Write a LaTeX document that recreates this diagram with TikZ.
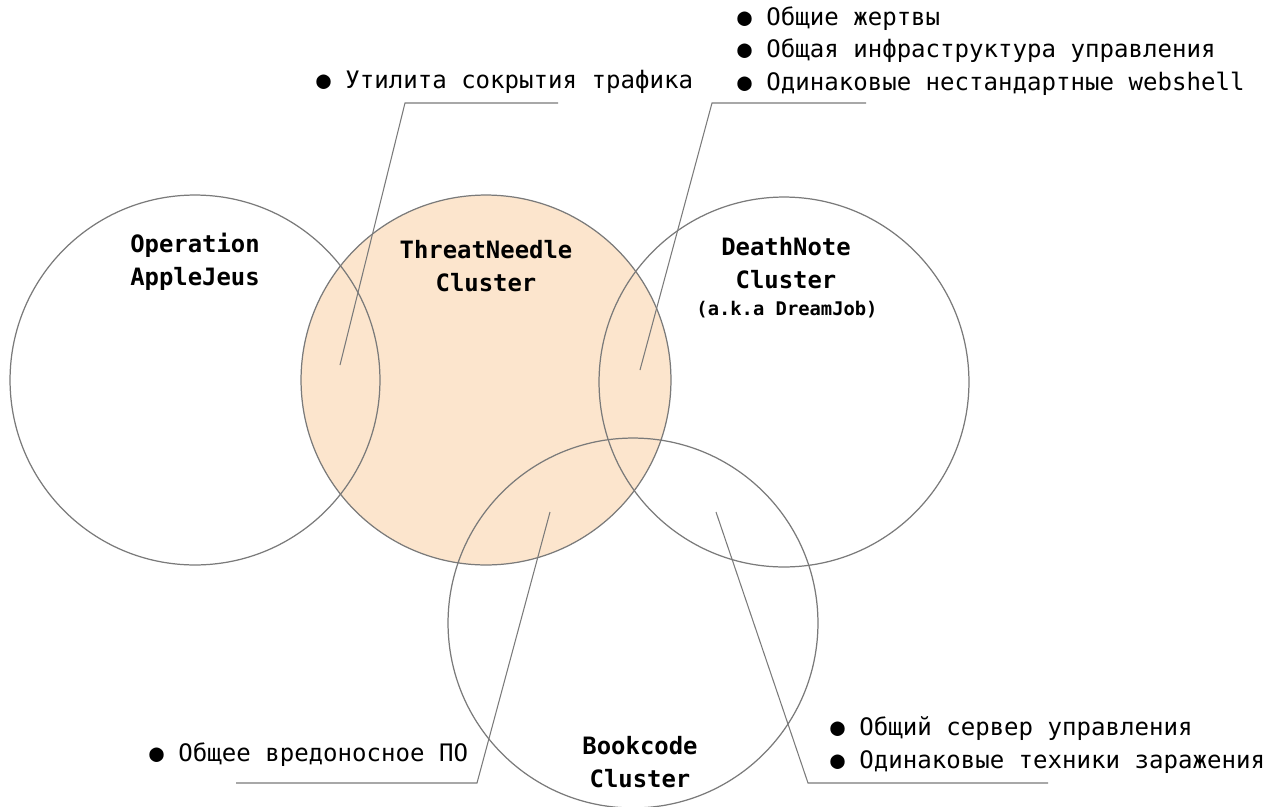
\documentclass[tikz,border=0pt]{standalone}
\usepackage{fontspec}
\usetikzlibrary{positioning}
\newfontfamily\vennfont{DejaVu Sans Mono}
\definecolor{peach}{HTML}{FCE5CD}
\definecolor{rim}{HTML}{7A7A7A}
\tikzset{
    %Define style for the circles
    cluster/.style={
           circle,
           draw=rim, line width=0.7pt,
           minimum size=7.4cm,
           inner sep=0pt},
    %Define style for cluster names
    clname/.style={
           font=\vennfont\bfseries\fontsize{13.6}{18.7}\selectfont,
           align=center,
           inner sep=0pt},
    %Define style for bullet notes
    note/.style={
           font=\vennfont\fontsize{13.7}{18.5}\selectfont,
           align=left,
           anchor=west,
           inner sep=0pt},
    % Define leader line style
    lead/.style={
           draw=rim,
           line width=0.6pt}
}
\begin{document}
\begin{tikzpicture}[x=0.02cm,y=-0.02cm]
\useasboundingbox (0,0) rectangle (1268,806);
\node[cluster, fill=peach](TN) at (486,380) {};
\node[cluster](AJ) at (195,380) {};
\node[cluster](DN) at (784,382) {};
\node[cluster](BC) at (633,623) {};
\node[clname](AJt) at (195,262) {Operation\\AppleJeus};
\node[clname](TNt) at (486,266) {ThreatNeedle\\Cluster};
\node[clname](DNt) at (786,263) {DeathNote\\Cluster};
\node[clname, font=\vennfont\bfseries\fontsize{10.7}{13}\selectfont](DJ) at (787,310) {(a.k.a DreamJob)};
\node[clname](BCt) at (640,762) {Bookcode\\Cluster};
\node[note](n1) at (316,82) {● Утилита сокрытия трафика};
\node[note](n2) at (737,51) {● Общие жертвы\\● Общая инфраструктура управления\\● Одинаковые нестандартные webshell};
\node[note](n3) at (149,755) {● Общее вредоносное ПО};
\node[note](n4) at (830,745) {● Общий сервер управления\\● Одинаковые техники заражения};
\coordinate (e1) at (340,365);
\coordinate (k1) at (405,103);
\coordinate (t1) at (558,103);
\coordinate (e2) at (640,370);
\coordinate (k2) at (712,103);
\coordinate (t2) at (866,103);
\coordinate (e3) at (550,512);
\coordinate (k3) at (477,783);
\coordinate (t3) at (236,783);
\coordinate (e4) at (716,512);
\coordinate (k4) at (808,783);
\coordinate (t4) at (1048,783);
\draw[lead] (e1) -- (k1) -- (t1);
\draw[lead] (e2) -- (k2) -- (t2);
\draw[lead] (e3) -- (k3) -- (t3);
\draw[lead] (e4) -- (k4) -- (t4);
\end{tikzpicture}
\end{document}
